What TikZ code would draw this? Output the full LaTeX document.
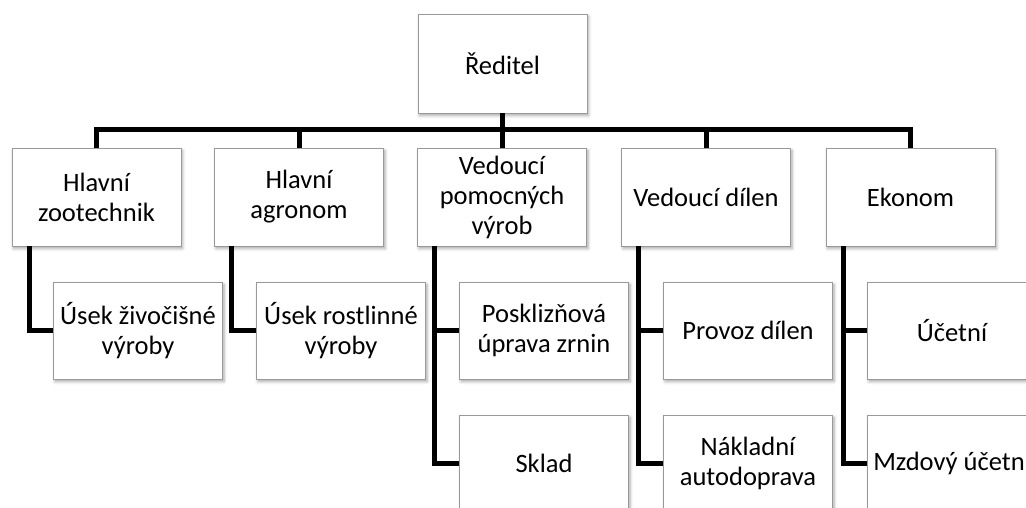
\documentclass[tikz,border=0pt]{standalone}
\usepackage{fontspec}
\setmainfont{Carlito}
\usetikzlibrary{shadows.blur}
\begin{document}
\begin{tikzpicture}[x=1pt,y=-1pt,
  box/.style={draw=black!40, line width=0.9pt, fill=white,
    minimum width=169pt, minimum height=98pt, inner sep=0pt, align=center,
    font=\fontsize{26.5}{30}\selectfont,
    blur shadow={shadow xshift=1.5pt, shadow yshift=-2.5pt, shadow blur radius=3pt, shadow opacity=35}},
  conn/.style={line width=5pt, black, line join=miter}]
\useasboundingbox (0,0) rectangle (1026,508);
\clip (0,0) rectangle (1026,508);
\coordinate (busy) at (0,130);
% top
\node[box, minimum height=99pt] (dir) at (502.5,63.5) {Ředitel};
% level 1
\node[box] (a) at (96.5,197) {Hlavní\\zootechnik};
\node[box] (b) at (299,197) {Hlavní\\agronom};
\node[box] (c) at (502,197) {Vedoucí\\pomocných\\výrob};
\node[box] (d) at (706,197) {Vedoucí dílen};
\node[box] (e) at (910.5,197) {Ekonom};
% level 2
\node[box, minimum height=97pt] (a1) at (138,330.5) {Úsek živočišné\\výroby};
\node[box, minimum height=97pt] (b1) at (341,330.5) {Úsek rostlinné\\výroby};
\node[box, minimum height=97pt] (c1) at (544,330.5) {Posklizňová\\úprava zrnin};
\node[box, minimum height=97pt] (c2) at (544,463.5) {Sklad};
\node[box, minimum height=97pt] (d1) at (748,330.5) {Provoz dílen};
\node[box, minimum height=97pt] (d2) at (748,463.5) {Nákladní\\autodoprava};
\node[box, minimum height=97pt] (e1) at (952,330.5) {Účetní};
\node[box, minimum height=97pt] (e2) at (952,463.5) {Mzdový účetní};
% connectors
\draw[conn] (a.north) -- (a.north |- busy) -- (e.north |- busy) -- (e.north);
\draw[conn] (dir.south) -- (dir.south |- busy);
\draw[conn] (b.north) -- (b.north |- busy);
\draw[conn] (c.north) -- (c.north |- busy);
\draw[conn] (d.north) -- (d.north |- busy);
\draw[conn] ([xshift=17.5pt]a.south west) |- (a1.west);
\draw[conn] ([xshift=17.5pt]b.south west) |- (b1.west);
\draw[conn] ([xshift=17.5pt]c.south west) |- (c2.west);
\draw[conn] ([xshift=17.5pt]c.south west |- c1.west) -- (c1.west);
\draw[conn] ([xshift=17.5pt]d.south west) |- (d2.west);
\draw[conn] ([xshift=17.5pt]d.south west |- d1.west) -- (d1.west);
\draw[conn] ([xshift=17.5pt]e.south west) |- (e2.west);
\draw[conn] ([xshift=17.5pt]e.south west |- e1.west) -- (e1.west);
\end{tikzpicture}
\end{document}
